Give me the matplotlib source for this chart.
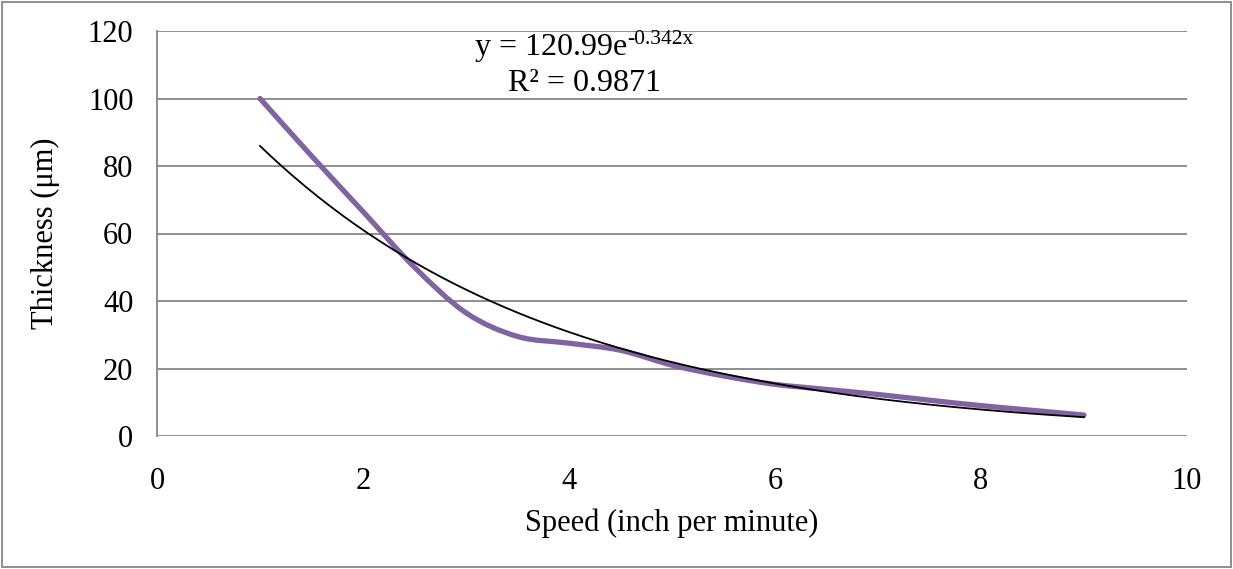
import matplotlib
matplotlib.use("Agg")
import matplotlib.pyplot as plt
import numpy as np
from matplotlib.path import Path
from matplotlib.patches import PathPatch, Rectangle

# thickness
speed = [1.0, 1.5, 2.0, 2.5, 3.0, 3.5, 4.0, 4.5, 5.0, 5.5, 6.0, 6.5, 7.0, 7.5, 8.0, 8.5, 9.0]
thickness = [100, 83, 66.5, 50, 36.5, 29.5, 27.5, 25.4, 21, 17.8, 15.3, 13.8, 12.3, 10.6, 9, 7.6, 6.2]

# exponential trendline as printed on the chart
fit_a = 120.99
fit_b = -0.342
fit_r2 = 0.9871

x_ticks = [0, 2, 4, 6, 8, 10]
y_ticks = [0, 20, 40, 60, 80, 100, 120]

plt.rcParams["font.family"] = ["Liberation Serif", "DejaVu Serif"]

grid_color = "#868686"
fs = 22


def smooth_path(xs, ys):
    """Bezier path through the points, like a spreadsheet 'smoothed line'."""
    pts = np.column_stack([xs, ys]).astype(float)
    n = len(pts)
    verts = [pts[0]]
    codes = [Path.MOVETO]
    for i in range(n - 1):
        p_prev = pts[max(i - 1, 0)]
        p0 = pts[i]
        p1 = pts[i + 1]
        p_next = pts[min(i + 2, n - 1)]
        c1 = p0 + (p1 - p_prev) / 6.0
        c2 = p1 - (p_next - p0) / 6.0
        verts += [c1, c2, p1]
        codes += [Path.CURVE4] * 3
    return Path(verts, codes)


fig = plt.figure(figsize=(12.33, 5.69), dpi=100)
ax = fig.add_axes([157 / 1233, 1 - 436 / 569, (1187 - 157) / 1233, (436 - 31) / 569])

ax.set_xlim(0, 10)
ax.set_ylim(0, 120)
ax.set_xticks(x_ticks)
ax.set_yticks(y_ticks)
ax.tick_params(length=0, labelsize=fs)
ax.tick_params(axis="x", pad=22)
ax.tick_params(axis="y", pad=17)

ax.grid(axis="y", color=grid_color, linewidth=1.3)
ax.set_axisbelow(True)
for side in ["top", "right", "bottom"]:
    ax.spines[side].set_visible(False)
ax.spines["left"].set_color(grid_color)
ax.spines["left"].set_linewidth(1.3)

patch = PathPatch(smooth_path(speed, thickness), fill=False, edgecolor="#8064A2",
                  linewidth=3.8, capstyle="round", joinstyle="round", zorder=3)
ax.add_patch(patch)

trend_x = np.linspace(min(speed), max(speed), 200)
ax.plot(trend_x, fit_a * np.exp(fit_b * trend_x), color="black", linewidth=1.3, zorder=4)

# trendline label: base text plus a small raised exponent
eq = ax.text(3.087, 112.9, f"y = {fit_a}e", fontsize=23, ha="left", va="baseline")
ax.annotate(f"{fit_b}x", xy=(1, 1), xycoords=eq, xytext=(0, 2), textcoords="offset points",
            fontsize=15.5, ha="left", va="top")
ax.text(4.15, 104.5, f"R² = {fit_r2}", fontsize=23, ha="center", va="center")

ax.set_xlabel("Speed (inch per minute)", fontsize=fs)
ax.set_ylabel("Thickness (μm)", fontsize=fs)
ax.xaxis.set_label_coords(0.5, -0.18)
ax.yaxis.set_label_coords(-0.094, 0.5)

fig.patches.append(Rectangle((0.002, 0.003), 0.996, 0.994, transform=fig.transFigure,
                             fill=False, edgecolor=grid_color, linewidth=1.3))

fig.savefig("out.png", dpi=100)
